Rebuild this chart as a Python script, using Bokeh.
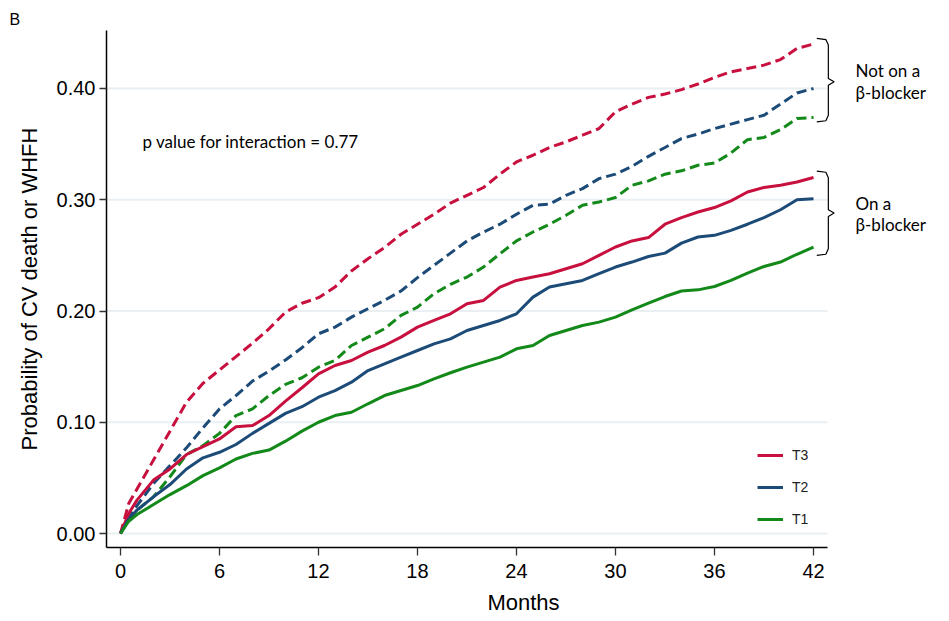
from bokeh.plotting import figure
from bokeh.models import Legend, LegendItem, FixedTicker, Range1d
from bokeh.embed import file_html
from bokeh.resources import INLINE
from bokeh.core.properties import value

# ---------------- data ----------------
months = [0, 0.5, 1, 2, 3, 4, 5, 6, 7, 8, 9, 10, 11, 12, 13, 14, 15, 16, 17, 18, 19, 20,
          21, 22, 23, 24, 25, 26, 27, 28, 29, 30, 31, 32, 33, 34, 35, 36, 37, 38, 39, 40, 41, 42]

# Not on a beta-blocker (dashed)
nb_t3 = [0, 0.027, 0.040, 0.066, 0.092, 0.118, 0.135, 0.147, 0.159, 0.171, 0.184, 0.199, 0.207,
         0.212, 0.2215, 0.236, 0.247, 0.257, 0.269, 0.278, 0.287, 0.297, 0.304, 0.311, 0.323,
         0.334, 0.340, 0.347, 0.352, 0.358, 0.364, 0.379, 0.386, 0.392, 0.395, 0.399, 0.404,
         0.410, 0.415, 0.418, 0.421, 0.426, 0.436, 0.440]
nb_t2 = [0, 0.014, 0.025, 0.045, 0.061, 0.077, 0.095, 0.112, 0.124, 0.137, 0.146, 0.156, 0.167,
         0.1795, 0.1855, 0.1945, 0.202, 0.2095, 0.218, 0.230, 0.241, 0.252, 0.263, 0.271, 0.278,
         0.287, 0.295, 0.296, 0.304, 0.310, 0.319, 0.323, 0.330, 0.339, 0.347, 0.355, 0.359,
         0.364, 0.368, 0.372, 0.376, 0.386, 0.396, 0.400]
nb_t1 = [0, 0.012, 0.021, 0.033, 0.051, 0.071, 0.079, 0.090, 0.106, 0.112, 0.124, 0.134, 0.140,
         0.1495, 0.1555, 0.169, 0.1765, 0.184, 0.196, 0.2035, 0.2155, 0.224, 0.2305, 0.2395,
         0.2515, 0.263, 0.271, 0.278, 0.286, 0.295, 0.298, 0.302, 0.313, 0.317, 0.323, 0.326,
         0.331, 0.333, 0.342, 0.354, 0.356, 0.363, 0.373, 0.374]

# On a beta-blocker (solid)
ob_t3 = [0, 0.018, 0.030, 0.048, 0.058, 0.071, 0.078, 0.085, 0.096, 0.097, 0.106, 0.119, 0.131,
         0.1435, 0.151, 0.1555, 0.163, 0.169, 0.1765, 0.1855, 0.1915, 0.1975, 0.2065, 0.2095,
         0.2215, 0.2275, 0.2305, 0.2335, 0.238, 0.2425, 0.250, 0.2575, 0.263, 0.266, 0.278,
         0.284, 0.289, 0.293, 0.299, 0.307, 0.311, 0.313, 0.316, 0.320]
ob_t2 = [0, 0.013, 0.021, 0.033, 0.044, 0.058, 0.068, 0.073, 0.080, 0.090, 0.099, 0.108, 0.114,
         0.1225, 0.1285, 0.136, 0.1465, 0.1525, 0.1585, 0.1645, 0.1705, 0.175, 0.1825, 0.187,
         0.1915, 0.1975, 0.2125, 0.2215, 0.2245, 0.2275, 0.2335, 0.2395, 0.244, 0.249, 0.252,
         0.261, 0.2665, 0.268, 0.2725, 0.278, 0.284, 0.291, 0.300, 0.301]
ob_t1 = [0, 0.011, 0.017, 0.026, 0.035, 0.043, 0.052, 0.059, 0.067, 0.072, 0.075, 0.083, 0.092,
         0.100, 0.106, 0.109, 0.1166, 0.124, 0.1285, 0.133, 0.139, 0.1445, 0.1495, 0.154,
         0.1585, 0.166, 0.169, 0.178, 0.1825, 0.187, 0.190, 0.1945, 0.201, 0.207, 0.213, 0.218,
         0.219, 0.222, 0.2275, 0.234, 0.240, 0.244, 0.251, 0.2575]

x_ticks = [0, 6, 12, 18, 24, 30, 36, 42]
y_ticks = [0.0, 0.1, 0.2, 0.3, 0.4]
y_tick_labels = ["0.00", "0.10", "0.20", "0.30", "0.40"]
legend_labels = ["T3", "T2", "T1"]

# brace annotations (value extents of the curve ends)
brace_not_on = (0.445, 0.406, 0.370)
brace_on = (0.3257, 0.288, 0.250)

# ---------------- style ----------------
RED = "#C8103E"
BLUE = "#1D4B78"
GREEN = "#13891A"
GRID = "#E9EFF2"
AX_FONT = "Liberation Sans"
NOTE_FONT = "Lato"

X0, X_AXIS_END, X1 = -0.848, 42.85, 49.697
Y0, Y1 = -0.01258, 0.45213

p = figure(width=941, height=619, output_backend="svg", toolbar_location=None,
           x_range=Range1d(X0, X1), y_range=Range1d(Y0, Y1),
           min_border_left=106, min_border_right=1, min_border_top=30, min_border_bottom=72)
p.outline_line_color = None
p.xgrid.visible = False
p.ygrid.visible = False
p.background_fill_color = "white"

p.title.text = "B"
p.title.align = "left"
p.title.offset = -97
p.title.standoff = 5
p.title.text_font = AX_FONT
p.title.text_font_size = "16px"
p.title.text_font_style = "normal"
p.title.text_color = "black"

# gridlines only across the plot region
p.segment(x0=[X0] * len(y_ticks), x1=[X_AXIS_END] * len(y_ticks), y0=y_ticks, y1=y_ticks,
          line_color=GRID, line_width=2)

# axes
p.xaxis.ticker = FixedTicker(ticks=x_ticks)
p.xaxis.bounds = (X0, X_AXIS_END)
p.yaxis.ticker = FixedTicker(ticks=y_ticks)
p.yaxis.major_label_overrides = {t: l for t, l in zip(y_ticks, y_tick_labels)}
for ax in (p.xaxis[0], p.yaxis[0]):
    ax.axis_line_color = "black"
    ax.axis_line_width = 1.5
    ax.major_tick_line_color = "#333333"
    ax.major_tick_line_width = 1.3
    ax.major_tick_in = 0
    ax.minor_tick_line_color = None
    ax.major_label_text_font = AX_FONT
    ax.major_label_text_font_size = "20px"
    ax.major_label_text_color = "black"
    ax.axis_label_text_font = AX_FONT
    ax.axis_label_text_font_size = "22px"
    ax.axis_label_text_font_style = "normal"
    ax.axis_label_text_color = "black"
p.xaxis.major_tick_out = 8
p.yaxis.major_tick_out = 7
p.xaxis.major_label_standoff = 8
p.yaxis.major_label_standoff = 4
p.xaxis.axis_label = "Months"
p.yaxis.axis_label = "Probability of CV death or WHFH"
p.xaxis.axis_label_standoff = 9
p.yaxis.axis_label_standoff = 12

# curves
dash = "10 5"
p.line(months, nb_t3, line_color=RED, line_width=3, line_dash=dash)
p.line(months, nb_t2, line_color=BLUE, line_width=3, line_dash=dash)
p.line(months, nb_t1, line_color=GREEN, line_width=3, line_dash=dash)
r3 = p.line(months, ob_t3, line_color=RED, line_width=3)
r2 = p.line(months, ob_t2, line_color=BLUE, line_width=3)
r1 = p.line(months, ob_t1, line_color=GREEN, line_width=3)

legend = Legend(items=[LegendItem(label=legend_labels[0], renderers=[r3]),
                       LegendItem(label=legend_labels[1], renderers=[r2]),
                       LegendItem(label=legend_labels[2], renderers=[r1])],
                location=(651, 18), padding=0, margin=0, spacing=12,
                glyph_width=26, glyph_height=20, label_height=20, label_standoff=9,
                border_line_color=None, background_fill_alpha=0,
                label_text_font=AX_FONT, label_text_font_size="14px",
                label_text_color="#222222")
p.add_layout(legend)

# braces
def brace(top, mid, bot):
    xs = [42.2, 42.75, 42.9, 42.9, 43.25, 42.9, 42.9, 42.75, 42.2]
    ys = [top, top - 0.001, top - 0.006, mid + 0.003, mid, mid - 0.003, bot + 0.006, bot + 0.001, bot]
    p.line(xs, ys, line_color="black", line_width=1.2)

brace(*brace_not_on)
brace(*brace_on)

# notes
p.text(x=[44.55, 44.55, 44.55, 44.55], y=[0.416, 0.396, 0.297, 0.2778],
       text=["Not on a", "β-blocker", "On a", "β-blocker"],
       text_font=value(NOTE_FONT), text_font_size="17px", text_color="black",
       text_baseline="middle", text_align="left")
p.text(x=[1.33], y=[0.352], text=["p value for interaction = 0.77"],
       text_font=value(NOTE_FONT), text_font_size="17px", text_color="black",
       text_baseline="middle", text_align="left")

open("out.html", "w").write(file_html(p, INLINE))
